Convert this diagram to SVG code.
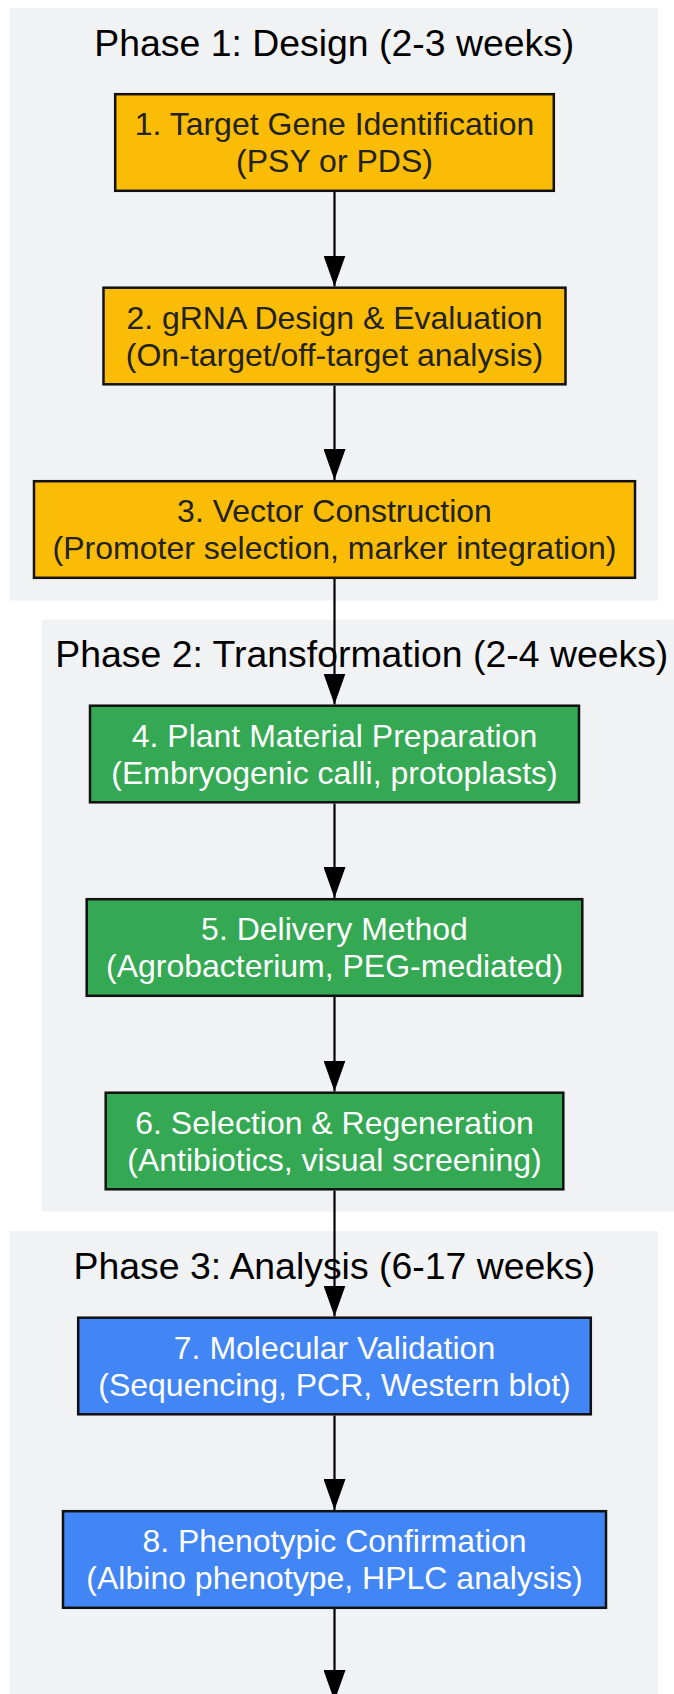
<svg xmlns="http://www.w3.org/2000/svg" width="674" height="1694" viewBox="0 0 674 1694">
<defs>
<marker id="arr" viewBox="0 0 31 22" refX="31" refY="11" markerWidth="31" markerHeight="22" markerUnits="userSpaceOnUse" orient="auto">
<path d="M0,0 L31,11 L0,22 Z" fill="#000"/>
</marker>
<style>
.cl{fill:#f1f2f4;stroke:none}
.ct{font-family:"Liberation Sans",Arial,sans-serif;font-size:37.4px;fill:#000;text-anchor:middle}
.n rect{stroke:#111;stroke-width:2.5}
.y rect{fill:#fbbc05}
.g rect{fill:#34a853}
.b rect{fill:#4285f4}
.n text{font-family:"Liberation Sans",Arial,sans-serif;font-size:32px;text-anchor:middle}
.y text{fill:#222}
.g text,.b text{fill:#fff}
.e{stroke:#000;stroke-width:2.2;fill:none}
</style>
</defs>
<rect width="674" height="1694" fill="#fff"/>
<g id="phase1">
<rect class="cl" x="10" y="8" width="648" height="592.5"/>
<text class="ct" x="334.3" y="56">Phase 1: Design (2-3 weeks)</text>
</g>
<g id="phase2">
<rect class="cl" x="42" y="619.5" width="640" height="592"/>
<text class="ct" x="361.8" y="667">Phase 2: Transformation (2-4 weeks)</text>
</g>
<g id="phase3">
<rect class="cl" x="10" y="1231" width="648" height="470"/>
<text class="ct" x="334.3" y="1278.5">Phase 3: Analysis (6-17 weeks)</text>
</g>
<g id="edges">
<line class="e" x1="334.5" y1="192" x2="334.5" y2="286.5" marker-end="url(#arr)"/>
<line class="e" x1="334.5" y1="385.5" x2="334.5" y2="480" marker-end="url(#arr)"/>
<line class="e" x1="334.5" y1="579" x2="334.5" y2="704.5" marker-end="url(#arr)"/>
<line class="e" x1="334.5" y1="803.5" x2="334.5" y2="898" marker-end="url(#arr)"/>
<line class="e" x1="334.5" y1="997" x2="334.5" y2="1091.5" marker-end="url(#arr)"/>
<line class="e" x1="334.5" y1="1190.5" x2="334.5" y2="1316.5" marker-end="url(#arr)"/>
<line class="e" x1="334.5" y1="1415.5" x2="334.5" y2="1510" marker-end="url(#arr)"/>
<line class="e" x1="334.5" y1="1609" x2="334.5" y2="1701" marker-end="url(#arr)"/>
</g>
<g id="n1" class="n y">
<rect x="115.2" y="94.2" width="438.6" height="96.6"/>
<text x="334.5" y="135">1. Target Gene Identification</text>
<text x="334.5" y="172">(PSY or PDS)</text>
</g>
<g id="n2" class="n y">
<rect x="103.5" y="287.7" width="462" height="96.6"/>
<text x="334.5" y="328.5">2. gRNA Design &amp; Evaluation</text>
<text x="334.5" y="365.5">(On-target/off-target analysis)</text>
</g>
<g id="n3" class="n y">
<rect x="34" y="481.2" width="601" height="96.6"/>
<text x="334.5" y="522">3. Vector Construction</text>
<text x="334.5" y="559">(Promoter selection, marker integration)</text>
</g>
<g id="n4" class="n g">
<rect x="90" y="705.7" width="489" height="96.6"/>
<text x="334.5" y="746.5">4. Plant Material Preparation</text>
<text x="334.5" y="783.5">(Embryogenic calli, protoplasts)</text>
</g>
<g id="n5" class="n g">
<rect x="86.7" y="899.2" width="495.6" height="96.6"/>
<text x="334.5" y="940">5. Delivery Method</text>
<text x="334.5" y="977">(Agrobacterium, PEG-mediated)</text>
</g>
<g id="n6" class="n g">
<rect x="105.7" y="1092.7" width="457.6" height="96.6"/>
<text x="334.5" y="1133.5">6. Selection &amp; Regeneration</text>
<text x="334.5" y="1170.5">(Antibiotics, visual screening)</text>
</g>
<g id="n7" class="n b">
<rect x="78.2" y="1317.7" width="512.6" height="96.6"/>
<text x="334.5" y="1358.5">7. Molecular Validation</text>
<text x="334.5" y="1395.5">(Sequencing, PCR, Western blot)</text>
</g>
<g id="n8" class="n b">
<rect x="63" y="1511.2" width="543" height="96.6"/>
<text x="334.5" y="1552">8. Phenotypic Confirmation</text>
<text x="334.5" y="1589">(Albino phenotype, HPLC analysis)</text>
</g>
</svg>
